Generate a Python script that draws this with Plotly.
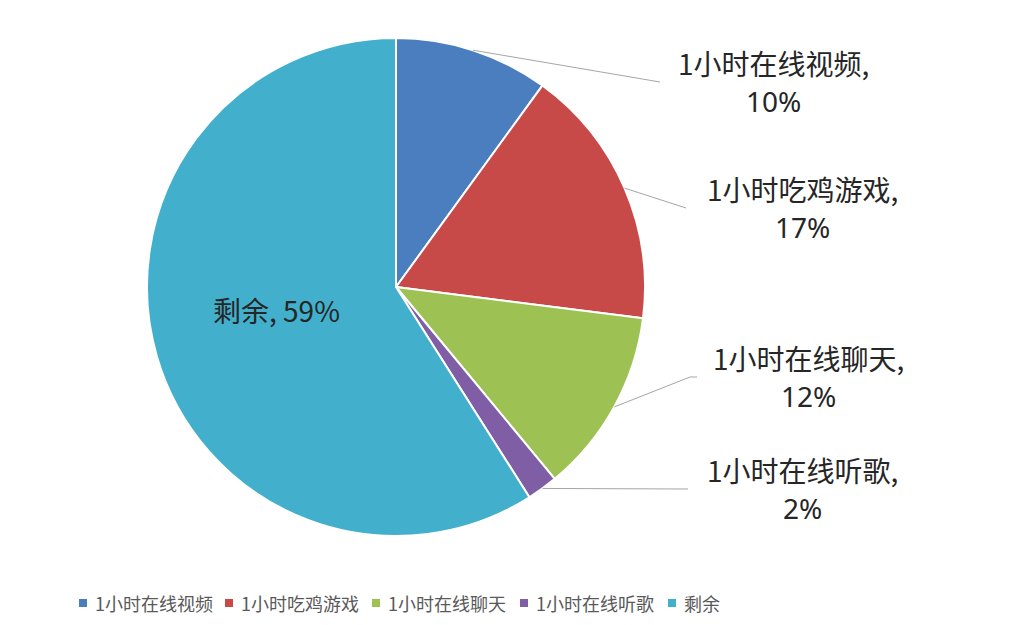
import math
import plotly.graph_objects as go

categories = ["1小时在线视频", "1小时吃鸡游戏", "1小时在线聊天", "1小时在线听歌", "剩余"]
values = [10, 17, 12, 2, 59]
colors = ["#4A7EBF", "#C84A48", "#9DC152", "#7F5EA6", "#42B0CC"]

W, H = 1029, 625
CX, CY, R = 396, 287, 249

fig = go.Figure(go.Pie(
    labels=categories,
    values=values,
    sort=False,
    direction="clockwise",
    rotation=0,
    marker=dict(colors=colors, line=dict(color="white", width=2)),
    textinfo="none",
    hoverinfo="label+percent",
    showlegend=False,
    domain=dict(x=[(CX - R) / W, (CX + R) / W], y=[(H - CY - R) / H, (H - CY + R) / H]),
))


def px(x):
    return x / W


def py(y):
    return 1 - y / H


total = sum(values)
# leader line end (x, y), optional horizontal elbow end x, label block centre x
label_pos = [
    (660, 82, None, 773),
    (686, 208, None, 802),
    (690, 377, 697, 808),
    (None, 489, 688, 802),
]
inside_label = (276, 310)
FONT = "Noto Sans CJK SC, Microsoft YaHei, sans-serif"
font_main = dict(family=FONT, size=28, color="#262626")
font_pct = dict(family="Noto Sans, sans-serif", size=28, color="#262626")

cum = 0
shapes = []
annotations = []
for i, (cat, v) in enumerate(zip(categories, values)):
    mid = (cum + v / 2) / total * 2 * math.pi
    cum += v
    sx = CX + R * math.sin(mid)
    sy = CY - R * math.cos(mid)
    pct = f"{round(v / total * 100)}%"
    if i < 4:
        ex, ey, elbow, cx = label_pos[i]
        if ex is None:
            path = f"M {px(sx)} {py(sy)} L {px(elbow)} {py(ey)}"
        elif elbow is None:
            path = f"M {px(sx)} {py(sy)} L {px(ex)} {py(ey)}"
        else:
            path = f"M {px(sx)} {py(sy)} L {px(ex)} {py(ey)} L {px(elbow)} {py(ey)}"
        shapes.append(dict(type="path", xref="paper", yref="paper", path=path,
                           line=dict(color="#A6A6A6", width=1)))
        annotations.append(dict(x=px(cx), y=py(ey - 19), xref="paper", yref="paper",
                                text=f"{cat},", showarrow=False,
                                xanchor="center", yanchor="middle", font=font_main))
        annotations.append(dict(x=px(cx), y=py(ey + 19), xref="paper", yref="paper",
                                text=pct, showarrow=False,
                                xanchor="center", yanchor="middle", font=font_pct))
    else:
        annotations.append(dict(x=px(inside_label[0]), y=py(inside_label[1]),
                                xref="paper", yref="paper",
                                text=f"{cat}, {pct}", showarrow=False,
                                xanchor="center", yanchor="middle", font=font_main))

# legend drawn as small squares + text
legend_x = [79, 225, 372, 520, 668]
legend_y = 603
for cat, col, lx in zip(categories, colors, legend_x):
    shapes.append(dict(type="rect", xref="paper", yref="paper",
                       x0=px(lx), x1=px(lx + 8), y0=py(legend_y + 4), y1=py(legend_y - 4),
                       fillcolor=col, line=dict(width=0)))
    annotations.append(dict(x=px(lx + 14), y=py(legend_y), xref="paper", yref="paper",
                            text=cat, showarrow=False, xanchor="left", yanchor="middle",
                            font=dict(family=FONT, size=18, color="#595959")))

fig.update_layout(
    width=W, height=H,
    margin=dict(l=0, r=0, t=0, b=0),
    paper_bgcolor="white",
    plot_bgcolor="white",
    shapes=shapes,
    annotations=annotations,
    showlegend=False,
)

fig.write_html("out.html", config={"displayModeBar": False},
               post_script="document.body.style.margin='0';document.body.style.padding='0';")
